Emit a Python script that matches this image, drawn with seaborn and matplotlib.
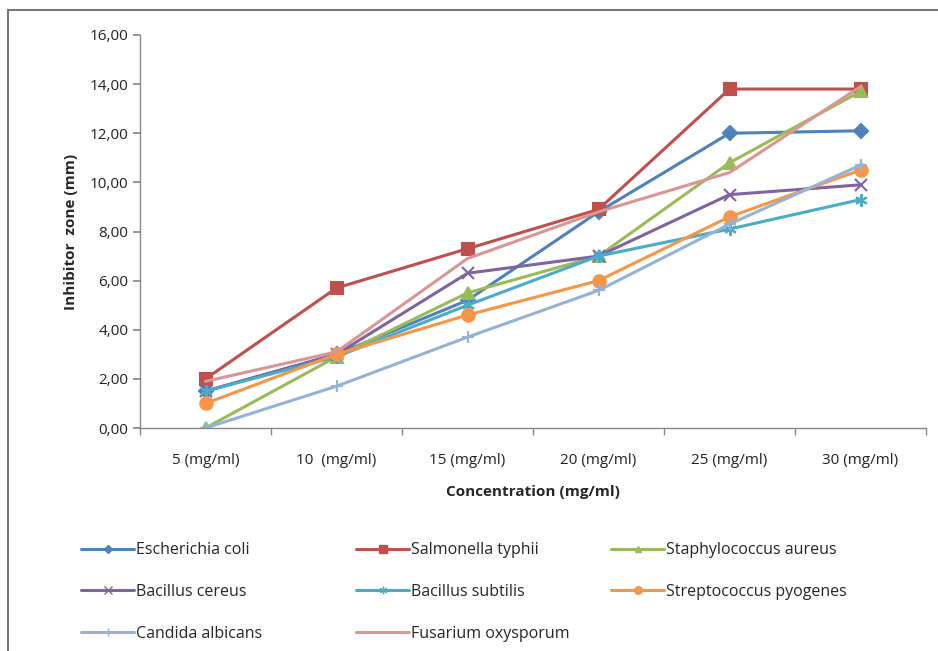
import numpy as np
import pandas as pd
import matplotlib
matplotlib.use("Agg")
import matplotlib.pyplot as plt
from matplotlib.lines import Line2D
from matplotlib.ticker import FuncFormatter, FixedLocator
import seaborn as sns

concentrations = ["5 (mg/ml)", "10  (mg/ml)", "15 (mg/ml)",
                  "20 (mg/ml)", "25 (mg/ml)", "30 (mg/ml)"]

species = ["Escherichia coli", "Salmonella typhii", "Staphylococcus aureus",
           "Bacillus cereus", "Bacillus subtilis", "Streptococcus pyogenes",
           "Candida albicans", "Fusarium oxysporum"]

e_coli = [1.5, 3.0, 5.2, 8.8, 12.0, 12.1]
s_typhii = [2.0, 5.7, 7.3, 8.9, 13.8, 13.8]
s_aureus = [0.0, 2.9, 5.5, 7.0, 10.8, 13.7]
b_cereus = [1.5, 3.0, 6.3, 7.0, 9.5, 9.9]
b_subtilis = [1.5, 2.9, 5.0, 7.0, 8.1, 9.3]
s_pyogenes = [1.0, 3.0, 4.6, 6.0, 8.6, 10.5]
c_albicans = [0.0, 1.7, 3.7, 5.6, 8.3, 10.7]
f_oxysporum = [1.9, 3.1, 6.9, 8.8, 10.4, 13.9]

values = [e_coli, s_typhii, s_aureus, b_cereus, b_subtilis,
          s_pyogenes, c_albicans, f_oxysporum]

colors = ["#4F81BD", "#C0504D", "#9BBB59", "#8064A2",
          "#4BACC6", "#F79646", "#95B3D7", "#D99694"]
markers = ["D", "s", "^", "x", (6, 2, 0), "o", "+", None]
msizes = [7, 9, 8, 9, 9, 9, 9, 0]

rows = []
for name, vals in zip(species, values):
    for c, v in zip(concentrations, vals):
        rows.append({"species": name, "conc": c, "zone": v})
df = pd.DataFrame(rows)

sns.set_theme(style="white")
plt.rcParams["font.family"] = ["Open Sans", "DejaVu Sans"]

fig = plt.figure(figsize=(9.38, 6.51), dpi=100)
ax = fig.add_axes([140 / 938, 1 - 428 / 651, 786 / 938, 393 / 651])

handles = []
for name, col, mk, ms in zip(species, colors, markers, msizes):
    sub = df[df["species"] == name]
    sns.lineplot(data=sub, x="conc", y="zone", ax=ax, color=col,
                 marker=mk, markersize=ms, markeredgecolor=col,
                 markeredgewidth=1.5, linewidth=2.2, sort=False,
                 legend=False)
    handles.append(ax.lines[-1])

ax.set_xlim(-0.5, len(concentrations) - 0.5)
ax.set_ylim(0, 16)
ax.set_yticks(np.arange(0, 17, 2))
ax.yaxis.set_major_formatter(FuncFormatter(lambda v, p: f"{v:.2f}".replace(".", ",")))
ax.xaxis.set_minor_locator(FixedLocator(np.arange(-0.5, len(concentrations), 1)))
ax.tick_params(axis="x", which="major", length=0, pad=18, labelsize=11)
ax.tick_params(axis="x", which="minor", length=5, color="#888888", bottom=True)
ax.tick_params(axis="y", length=5, color="#888888", left=True, labelsize=11)
for lab in ax.get_yticklabels() + ax.get_xticklabels():
    lab.set_color("#222222")

for side in ["top", "right"]:
    ax.spines[side].set_visible(False)
for side in ["left", "bottom"]:
    ax.spines[side].set_color("#888888")
    ax.spines[side].set_linewidth(1)

ax.set_xlabel("Concentration (mg/ml)", fontsize=11, fontweight="bold", labelpad=12)
ax.set_ylabel("Inhibitor  zone (mm)", fontsize=11, fontweight="bold", labelpad=8)

# legend: three columns placed like the original
columns = [[0, 3, 6], [1, 4, 7], [2, 5]]
col_x = [75, 350, 605]
for idxs, x0 in zip(columns, col_x):
    hs = [Line2D([], [], color=colors[i], marker=markers[i], linewidth=2.2,
                 markersize=msizes[i] * 0.6, markeredgecolor=colors[i])
          for i in idxs]
    fig.legend(hs, [species[i] for i in idxs], loc="upper left",
               bbox_to_anchor=(x0 / 938, 1 - 536 / 651), frameon=False,
               fontsize=11.5, handlelength=3.3, handletextpad=0.1,
               labelspacing=1.6, borderaxespad=0)

# outer chart frame (top and left edges visible)
fig.add_artist(Line2D([8 / 938, 1], [1 - 10 / 651, 1 - 10 / 651],
                      transform=fig.transFigure, color="#777777", linewidth=1.5))
fig.add_artist(Line2D([8 / 938, 8 / 938], [0, 1 - 10 / 651],
                      transform=fig.transFigure, color="#777777", linewidth=1.5))

fig.savefig("out.png", dpi=100)
